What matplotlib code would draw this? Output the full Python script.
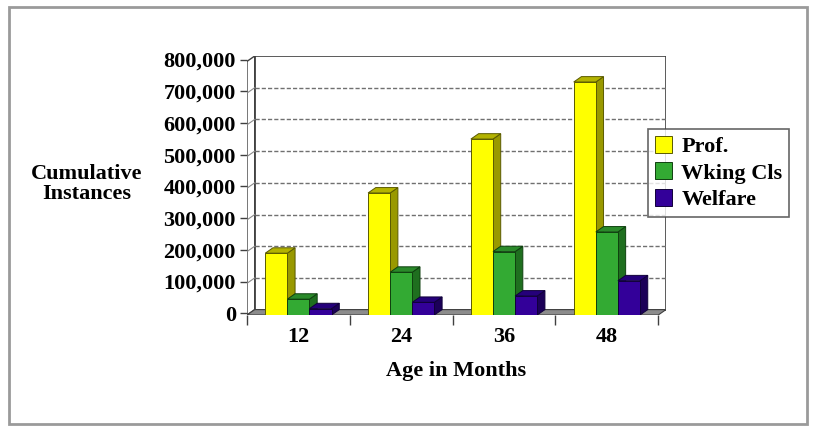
import numpy as np
import matplotlib.pyplot as plt
from matplotlib.patches import Rectangle, Polygon

plt.rcParams['font.family'] = ['Liberation Serif', 'DejaVu Serif']
plt.rcParams['font.weight'] = 'bold'

# data
ages = ["12", "24", "36", "48"]
series = ["Prof.", "Wking Cls", "Welfare"]
prof = [195000, 385000, 555000, 735000]
wking = [50000, 135000, 200000, 262000]
welfare = [20000, 40000, 60000, 108000]

front_colors = ["#ffff00", "#33aa33", "#330099"]
side_colors = ["#999900", "#1f6f1f", "#1c0058"]
top_colors = ["#b3b300", "#2a8a2a", "#25007a"]
edge_colors = ["#5a5a00", "#0f400f", "#10003a"]

y_ticks = [0, 100000, 200000, 300000, 400000, 500000, 600000, 700000, 800000]
y_labels = ["0", "100,000", "200,000", "300,000", "400,000", "500,000",
            "600,000", "700,000", "800,000"]

fig = plt.figure(figsize=(8.14, 4.30), dpi=100)
fig.patches.append(Rectangle((9 / 814, 6 / 430), 798 / 814, 417 / 430,
                             transform=fig.transFigure, fill=False,
                             edgecolor="#9a9a9a", linewidth=2))

ax = fig.add_axes([247 / 814, 115 / 430, 419 / 814, 259 / 430])

dx = 0.075
dy = 17000
ymax = y_ticks[-1]
n = len(ages)
ax.set_xlim(0, n + dx)
ax.set_ylim(0, ymax + dy)
for s in ax.spines.values():
    s.set_visible(False)

# back wall, side wall and floor
ax.add_patch(Polygon([(dx, dy), (n + dx, dy), (n + dx, ymax + dy), (dx, ymax + dy)],
                     closed=True, facecolor="white", edgecolor="#404040", lw=1.2, zorder=1))
ax.add_patch(Polygon([(0, 0), (dx, dy), (dx, ymax + dy), (0, ymax)],
                     closed=True, facecolor="white", edgecolor="#404040", lw=1.0, zorder=1))
for v in y_ticks[1:-1]:
    ax.plot([dx, n + dx], [v + dy, v + dy], ls=(0, (3, 1.5)), color="#707070", lw=1.0, zorder=2)
    ax.plot([0, dx], [v, v + dy], color="#8a8a8a", lw=0.8, zorder=2)
ax.add_patch(Polygon([(0, 0), (n, 0), (n + dx, dy), (dx, dy)],
                     closed=True, facecolor="#8c8c8c", edgecolor="#404040", lw=0.8, zorder=2))

# 3D looking bars
w = 0.215
data = [prof, wking, welfare]
z = 3
for i in range(n):
    for j, vals in enumerate(data):
        v = vals[i]
        x0 = i + 0.5 + (j - 1) * w - w / 2
        x1 = x0 + w
        ax.add_patch(Polygon([(x1, 0), (x1 + dx, dy), (x1 + dx, v + dy), (x1, v)],
                             closed=True, facecolor=side_colors[j],
                             edgecolor=edge_colors[j], lw=0.7, zorder=z))
        ax.add_patch(Polygon([(x0, v), (x0 + dx, v + dy), (x1 + dx, v + dy), (x1, v)],
                             closed=True, facecolor=top_colors[j],
                             edgecolor=edge_colors[j], lw=0.7, zorder=z))
        ax.bar(x0, v, width=w, align="edge", color=front_colors[j],
               edgecolor=edge_colors[j], lw=0.7, zorder=z + 0.5,
               label=series[j] if i == 0 else None)
        z += 1

# axes ticks and labels
ax.set_yticks([v + dy / 3 for v in y_ticks])
ax.set_yticklabels(y_labels, fontsize=16, fontweight="bold")
ax.tick_params(axis="y", length=5, width=1, color="#404040", pad=3)
ax.set_xticks([i + 0.5 for i in range(n)])
ax.set_xticklabels(ages, fontsize=16, fontweight="bold")
ax.tick_params(axis="x", length=0, pad=9)
ax.set_xticks(range(n + 1), minor=True)
ax.tick_params(axis="x", which="minor", length=7, width=1, color="#404040")
ax.set_xlabel("Age in Months", fontsize=16, fontweight="bold", labelpad=10)

fig.text(87 / 814, 1 - 184 / 430, "Cumulative\nInstances", ha="center", va="center",
         fontsize=16, fontweight="bold", linespacing=1.0)

leg = ax.legend(loc="upper left", bbox_to_anchor=(648 / 814, 1 - 129 / 430),
                bbox_transform=fig.transFigure, frameon=True, fancybox=False,
                prop={"size": 16, "weight": "bold"}, handlelength=0.8,
                handleheight=0.8, handletextpad=0.4, labelspacing=0.25,
                borderpad=0.3, borderaxespad=0)
leg.get_frame().set_edgecolor("#404040")
leg.get_frame().set_linewidth(1.2)

fig.savefig("out.png", dpi=100)
